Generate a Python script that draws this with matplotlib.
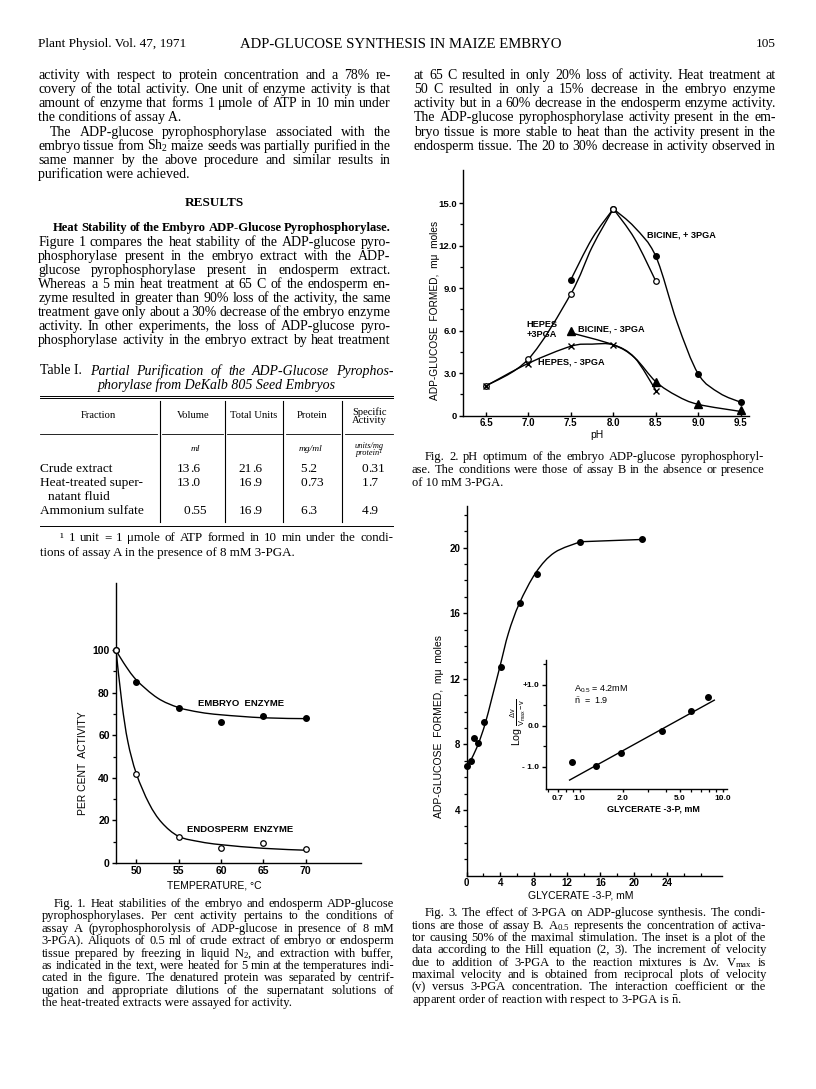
import numpy as np
import matplotlib
matplotlib.use('Agg')
import matplotlib.pyplot as plt
from matplotlib.path import Path
from matplotlib.patches import PathPatch
from matplotlib.lines import Line2D

plt.rcParams['font.family'] = ['Liberation Serif', 'DejaVu Serif']
plt.rcParams['mathtext.fontset'] = 'custom'
plt.rcParams['mathtext.rm'] = 'Liberation Serif'
plt.rcParams['mathtext.it'] = 'Liberation Serif:italic'
plt.rcParams['mathtext.bf'] = 'Liberation Serif:bold'
plt.rcParams['mathtext.sf'] = 'Liberation Sans'

W, H = 816, 1089
SANS = 'Liberation Sans'

# ---- Fig. 1: heat stability ----
temp = [47.6, 50, 55, 60, 65, 70]
embryo = [100, 85, 72.8, 66.2, 69, 68]
endosperm = [100, 42, 12, 7, 9.4, 6.6]
embryo_curve_t = [47.6, 48.5, 50, 52.5, 55, 57.5, 60, 65, 70]
embryo_curve = [100, 94, 86, 77.5, 73, 70.8, 69.6, 68.2, 67.8]
endo_curve_t = [47.6, 48.3, 49.0, 50, 51.5, 53, 55, 57.5, 60, 65, 70]
endo_curve = [100, 75, 57, 42, 28, 19, 12.5, 10, 8.6, 6.9, 6.0]

# ---- Fig. 2: pH optimum ----
bic_plus_ph = [7.5, 8.0, 8.5, 9.0, 9.5]
bic_plus = [9.6, 14.6, 11.25, 2.95, 0.95]
hep_plus_ph = [6.5, 7.0, 7.5, 8.0, 8.5]
hep_plus = [2.1, 4.0, 8.6, 14.6, 9.5]
hep_minus_ph = [6.5, 7.0, 7.5, 8.0, 8.5]
hep_minus = [2.1, 3.65, 4.95, 5.0, 1.75]
bic_minus_ph = [7.5, 8.5, 9.0, 9.5]
bic_minus = [6.0, 2.35, 0.8, 0.4]
# hand drawn curves (rise and fall drawn separately, sharp peak)
hep_plus_rise_ph = [6.5, 7.0, 7.5, 7.75, 8.0]
hep_plus_rise = [2.1, 4.0, 8.6, 11.9, 14.6]
hep_plus_fall_ph = [8.0, 8.25, 8.5]
hep_plus_fall = [14.6, 12.5, 9.5]
bic_plus_rise_ph = [7.5, 7.75, 8.0]
bic_plus_rise = [9.6, 12.5, 14.6]
bic_plus_fall_ph = [8.0, 8.25, 8.5, 8.75, 9.0, 9.25, 9.5]
bic_plus_fall = [14.6, 13.3, 11.25, 6.6, 2.95, 1.6, 0.95]
hep_minus_curve_ph = [6.5, 7.0, 7.5, 7.75, 8.0, 8.25, 8.5]
hep_minus_curve = [2.1, 3.7, 4.9, 5.05, 5.0, 4.1, 1.8]
bic_minus_curve_ph = [7.5, 8.0, 8.25, 8.5, 8.75, 9.0, 9.5]
bic_minus_curve = [5.85, 5.0, 4.1, 2.4, 1.4, 0.8, 0.3]

# ---- Fig. 3: 3-PGA saturation ----
pga = [0, 0.5, 0.9, 1.4, 2.1, 4.1, 6.4, 8.4, 13.6, 21.0]
adpg = [6.7, 7.0, 8.4, 8.1, 9.37, 12.74, 16.6, 18.4, 20.36, 20.5]
pga_curve_x = [0, 0.6, 1.4, 2.2, 3.0, 4.0, 5.0, 6.3, 8.3, 10.5, 13.6]
pga_curve_y = [6.7, 7.15, 8.05, 9.25, 10.8, 12.8, 14.8, 16.6, 18.5, 19.7, 20.36]
# inset, Hill plot
hill_x = [0.89, 1.29, 1.95, 3.77, 5.95, 7.9]
hill_y = [-0.87, -0.98, -0.655, -0.14, 0.36, 0.70]
hill_line_x = [0.85, 8.7]
hill_line_y = [-1.32, 0.62]

# ---- Table I ----
tab_rows = ["Crude extract", "Heat-treated super-", "Ammonium sulfate"]
tab_volume = ["13.6", "13.0", "0.55"]
tab_units = ["21.6", "16.9", "16.9"]
tab_protein = ["5.2", "0.73", "6.3"]
tab_specific = ["0.31", "1.7", "4.9"]

# ---- page text ----
left_a = [
    "activity with respect to protein concentration and a 78% re-",
    "covery of the total activity. One unit of enzyme activity is that",
    "amount of enzyme that forms 1 μmole of ATP in 10 min under",
    "the conditions of assay A.",
]
left_b = [
    "The ADP-glucose pyrophosphorylase associated with the",
    r"embryo tissue from $\mathrm{Sh_2}$ maize seeds was partially purified in the",
    "same manner by the above procedure and similar results in",
    "purification were achieved.",
]
results_head = "Heat Stability of the Embyro ADP-Glucose Pyrophosphorylase."
left_c = [
    "Figure 1 compares the heat stability of the ADP-glucose pyro-",
    "phosphorylase present in the embryo extract with the ADP-",
    "glucose pyrophosphorylase present in endosperm extract.",
    "Whereas a 5 min heat treatment at 65 C of the endosperm en-",
    "zyme resulted in greater than 90% loss of the activity, the same",
    "treatment gave only about a 30% decrease of the embryo enzyme",
    "activity. In other experiments, the loss of ADP-glucose pyro-",
    "phosphorylase activity in the embryo extract by heat treatment",
]
right_a = [
    "at 65 C resulted in only 20% loss of activity. Heat treatment at",
    "50 C resulted in only a 15% decrease in the embryo enzyme",
    "activity but in a 60% decrease in the endosperm enzyme activity.",
    "The ADP-glucose pyrophosphorylase activity present in the em-",
    "bryo tissue is more stable to heat than the activity present in the",
    "endosperm tissue. The 20 to 30% decrease in activity observed in",
]
cap1 = [
    "Fig. 1. Heat stabilities of the embryo and endosperm ADP-glucose",
    "pyrophosphorylases. Per cent activity pertains to the conditions of",
    "assay A (pyrophosphorolysis of ADP-glucose in presence of 8 mM",
    "3-PGA). Aliquots of 0.5 ml of crude extract of embryo or endosperm",
    r"tissue prepared by freezing in liquid $\mathrm{N_2}$, and extraction with buffer,",
    "as indicated in the text, were heated for 5 min at the temperatures indi-",
    "cated in the figure. The denatured protein was separated by centrif-",
    "ugation and appropriate dilutions of the supernatant solutions of",
    "the heat-treated extracts were assayed for activity.",
]
cap2 = [
    "Fig. 2. pH optimum of the embryo ADP-glucose pyrophosphoryl-",
    "ase. The conditions were those of assay B in the absence or presence",
    "of 10 mM 3-PGA.",
]
cap3 = [
    "Fig. 3. The effect of 3-PGA on ADP-glucose synthesis. The condi-",
    r"tions are those of assay B. $\mathrm{A_{0.5}}$ represents the concentration of activa-",
    "tor causing 50% of the maximal stimulation. The inset is a plot of the",
    "data according to the Hill equation (2, 3). The increment of velocity",
    r"due to addition of 3-PGA to the reaction mixtures is Δv. $\mathrm{V_{max}}$ is",
    "maximal velocity and is obtained from reciprocal plots of velocity",
    "(v) versus 3-PGA concentration. The interaction coefficient or the",
    r"apparent order of reaction with respect to 3-PGA is $\bar{\mathrm{n}}$.",
]

fig = plt.figure(figsize=(W / 100, H / 100), dpi=100)
renderer = fig.canvas.get_renderer()


def fx(x):
    return x / W


def fy(y):
    return 1 - y / H


def ftext(x, y, s, **kw):
    kw.setdefault('va', 'center')
    return fig.text(fx(x), fy(y), s, **kw)


def put_line(text, x0, x1, y, size, justify=True, **kw):
    base = y + 0.30 * size * 100 / 72
    if not justify:
        return fig.text(fx(x0), fy(base), text, fontsize=size, va='baseline', ha='left', **kw)
    words = text.split()
    objs = [fig.text(0, fy(base), w, fontsize=size, va='baseline', ha='left', **kw) for w in words]
    widths = [o.get_window_extent(renderer).width for o in objs]
    min_gap = 0.2 * size * 100 / 72
    need = sum(widths) + min_gap * (len(words) - 1)
    if need > x1 - x0:
        # squeeze the line a little when the font runs wider than the column
        k = (x1 - x0) / need
        for o in objs:
            o.set_fontsize(size * k)
        widths = [o.get_window_extent(renderer).width for o in objs]
    gap = (x1 - x0 - sum(widths)) / max(len(words) - 1, 1)
    x = x0
    for o, w in zip(objs, widths):
        o.set_x(fx(x))
        x += w + gap


def para(lines, x0, x1, y0, dy, size, indent=0, last_just=False, **kw):
    for i, line in enumerate(lines):
        just = last_just or i < len(lines) - 1
        put_line(line, x0 + (indent if i == 0 else 0), x1, y0 + i * dy, size, just, **kw)


def hline(x0, x1, y, lw=0.7):
    fig.add_artist(Line2D([fx(x0), fx(x1)], [fy(y), fy(y)], color='k', lw=lw))


def vline(x, y0, y1, lw=0.7):
    fig.add_artist(Line2D([fx(x), fx(x)], [fy(y0), fy(y1)], color='k', lw=lw))


def add_ax(l, t, r, b):
    ax = fig.add_axes([fx(l), fy(b), (r - l) / W, (b - t) / H])
    ax.set_facecolor('none')
    ax.spines[['top', 'right']].set_visible(False)
    ax.spines[['left', 'bottom']].set_linewidth(1.0)
    ax.tick_params(axis='y', direction='out', length=3, width=1.0, pad=1.5)
    ax.tick_params(axis='x', direction='in', length=3, width=1.0, pad=2)
    ax.tick_params(axis='y', which='minor', direction='out', length=2, width=0.9)
    ax.tick_params(axis='x', which='minor', direction='in', length=2, width=0.9)
    return ax


def smooth(ax, xs, ys, **kw):
    p = np.column_stack([xs, ys]).astype(float)
    n = len(p)
    verts = [p[0]]
    codes = [Path.MOVETO]
    for i in range(n - 1):
        p0 = p[max(i - 1, 0)]
        p1 = p[i]
        p2 = p[i + 1]
        p3 = p[min(i + 2, n - 1)]
        verts += [p1 + (p2 - p0) / 6, p2 - (p3 - p1) / 6, p2]
        codes += [Path.CURVE4] * 3
    ax.add_patch(PathPatch(Path(verts, codes), fill=False, lw=1.0, color='k', **kw))


def ticklabels(ax, axis, ticks, labels, size=7):
    if axis == 'x':
        ax.set_xticks(ticks)
        ax.set_xticklabels(labels, fontsize=size, fontfamily=SANS, fontweight='bold')
    else:
        ax.set_yticks(ticks)
        ax.set_yticklabels(labels, fontsize=size, fontfamily=SANS, fontweight='bold')


# ================= page header =================
ftext(38, 44, "Plant Physiol. Vol. 47, 1971", fontsize=9.5, ha='left')
ftext(240, 44, "ADP-GLUCOSE SYNTHESIS IN MAIZE EMBRYO", fontsize=10.6, ha='left')
ftext(776, 44, "105", fontsize=9.5, ha='right')

# ================= left column text =================
BODY = 10.0
para(left_a, 38.3, 390.7, 75, 14.1, BODY)
para(left_b, 38.3, 390.7, 131.5, 14.1, BODY, indent=12)
ftext(214.5, 203.3, "RESULTS", fontsize=9.5, fontweight='bold', ha='center')
put_line(results_head, 53.3, 390.7, 226.7, BODY, True, fontweight='bold')
para(left_c, 38.3, 390.7, 241.5, 14.1, BODY, last_just=True)

# ================= right column text =================
para(right_a, 414, 776, 75, 14.1, BODY, last_just=True)

# ================= Table I =================
t = ftext(40, 370.7, "Table I.", fontsize=BODY, ha='left')
tw = t.get_window_extent(renderer).width
put_line("Partial Purification of the ADP-Glucose Pyrophos-", 40 + tw + 8, 393.3, 370.7, BODY,
         True, fontstyle='italic')
ftext(216.7, 385, "phorylase from DeKalb 805 Seed Embryos", fontsize=BODY, ha='center',
      fontstyle='italic')
hline(40, 393.3, 395.7)
hline(40, 393.3, 398)
for x0, x1 in [(40, 156.7), (161.7, 222.7), (226.7, 281.7), (285.7, 340), (345, 393.3)]:
    hline(x0, x1, 434.3, lw=0.6)
for xv in [160, 225, 283.3, 342.3]:
    vline(xv, 400.7, 521.7, lw=0.8)
hline(40, 393.3, 526)
HS = 7.6
ftext(98.3, 416, "Fraction", fontsize=HS, ha='center')
ftext(193, 416, "Volume", fontsize=HS, ha='center')
ftext(254, 416, "Total Units", fontsize=HS, ha='center')
ftext(311.7, 416, "Protein", fontsize=HS, ha='center')
ftext(369.3, 416, "Specific\nActivity", fontsize=HS, ha='center', linespacing=0.85)
ftext(195, 449.3, "ml", fontsize=6.8, ha='center', fontstyle='italic')
ftext(311, 449.3, "mg/ml", fontsize=6.8, ha='center', fontstyle='italic')
ftext(369.3, 449.3, "units/mg\nprotein¹", fontsize=6.0, ha='center', fontstyle='italic',
      linespacing=0.9)
TB = 9.6
row_y = [469.3, 483.3, 510.7]
dec_x = [190.5, 252, 307, 368.5]
for i, name in enumerate(tab_rows):
    ftext(40, row_y[i], name, fontsize=TB, ha='left')
    for xd, col in zip(dec_x, [tab_volume, tab_units, tab_protein, tab_specific]):
        whole, frac = col[i].split('.')
        ftext(xd, row_y[i], whole, fontsize=TB, ha='right')
        ftext(xd, row_y[i], '.' + frac, fontsize=TB, ha='left')
ftext(48, 497.3, "natant fluid", fontsize=TB, ha='left')
put_line("¹ 1 unit = 1 μmole of ATP formed in 10 min under the condi-", 60, 393.3, 537.3, 9.4)
put_line("tions of assay A in the presence of 8 mM 3-PGA.", 40, 393.3, 552.3, 9.4, False)

# ================= Fig. 1 =================
ax1 = add_ax(116, 583, 361, 863)
ax1.set_xlim(47.6, 76.54)
ax1.set_ylim(0, 131.5)
smooth(ax1, embryo_curve_t, embryo_curve)
smooth(ax1, endo_curve_t, endo_curve)
ax1.plot(temp, embryo, 'o', color='k', ms=4, clip_on=False, zorder=3)
ax1.plot(temp, endosperm, 'o', mfc='white', mec='k', mew=0.9, ms=4, clip_on=False, zorder=3)
ticklabels(ax1, 'x', [50, 55, 60, 65, 70], ['50', '55', '60', '65', '70'], 7.5)
ticklabels(ax1, 'y', [0, 20, 40, 60, 80, 100], ['0', '20', '40', '60', '80', '100'], 7.5)
ax1.set_yticks([10, 30, 50, 70, 90], minor=True)
ftext(241, 703, "EMBRYO  ENZYME", fontsize=6.8, fontfamily=SANS, fontweight='bold', ha='center')
ftext(240, 829, "ENDOSPERM  ENZYME", fontsize=6.8, fontfamily=SANS, fontweight='bold', ha='center')
ftext(83, 763, "PER CENT  ACTIVITY", fontsize=7.5, fontfamily=SANS, rotation=90, ha='center')
ftext(214, 886, "TEMPERATURE, °C", fontsize=7.5, fontfamily=SANS, ha='center')
CAP = 9.0
para(cap1, 41.7, 394.3, 903.3, 12.37, CAP, indent=11.6)

# ================= Fig. 2 =================
ax2 = add_ax(463.3, 170, 749, 415.7)
ax2.set_xlim(6.233, 9.598)
ax2.set_ylim(0, 17.34)
smooth(ax2, hep_plus_rise_ph, hep_plus_rise)
smooth(ax2, hep_plus_fall_ph, hep_plus_fall)
smooth(ax2, bic_plus_rise_ph, bic_plus_rise)
smooth(ax2, bic_plus_fall_ph, bic_plus_fall)
smooth(ax2, hep_minus_curve_ph, hep_minus_curve)
smooth(ax2, bic_minus_curve_ph, bic_minus_curve)
ax2.plot(bic_plus_ph, bic_plus, 'o', color='k', ms=4, zorder=3, clip_on=False)
ax2.plot(hep_plus_ph, hep_plus, 'o', mfc='white', mec='k', mew=0.9, ms=4, zorder=3)
ax2.plot(hep_minus_ph, hep_minus, 'x', color='k', mew=1.0, ms=5, zorder=3)
ax2.plot(bic_minus_ph, bic_minus, '^', color='k', ms=5.5, zorder=3, clip_on=False)
ticklabels(ax2, 'x', [6.5, 7.0, 7.5, 8.0, 8.5, 9.0, 9.5],
           ['6.5', '7.0', '7.5', '8.0', '8.5', '9.0', '9.5'], 7)
ticklabels(ax2, 'y', [0, 3, 6, 9, 12, 15], ['0', '3.0', '6.0', '9.0', '12.0', '15.0'], 6.8)
ax2.set_yticks([1.5, 4.5, 7.5, 10.5, 13.5], minor=True)
LB = dict(fontsize=6.6, fontfamily=SANS, fontweight='bold')
ftext(647, 235, "BICINE, + 3PGA", ha='left', **LB)
ftext(557, 325, "HEPES", ha='right', **LB)
ftext(557, 334.5, "+3PGA", ha='right', **LB)
ftext(578, 329.3, "BICINE, - 3PGA", ha='left', **LB)
ftext(538, 362, "HEPES, - 3PGA", ha='left', **LB)
ftext(434.5, 310, "ADP-GLUCOSE  FORMED,  mμ  moles", fontsize=7.3, fontfamily=SANS,
      rotation=90, ha='center')
ftext(596.7, 435, "pH", fontsize=7.5, fontfamily=SANS, ha='center')
para(cap2, 411.7, 764, 456.7, 12.6, CAP, indent=13.3)

# ================= Fig. 3 =================
ax3 = add_ax(466.7, 506, 721.7, 875.6)
ax3.set_xlim(0, 30.5)
ax3.set_ylim(0, 22.54)
smooth(ax3, pga_curve_x, pga_curve_y)
ax3.plot([pga[-2], pga[-1]], [adpg[-2], adpg[-1]], color='k', lw=1.0)
ax3.plot(pga, adpg, 'o', color='k', ms=4, zorder=3, clip_on=False)
ticklabels(ax3, 'x', [0, 4, 8, 12, 16, 20, 24], ['0', '4', '8', '12', '16', '20', '24'], 7)
ticklabels(ax3, 'y', [4, 8, 12, 16, 20], ['4', '8', '12', '16', '20'], 7)
ax3.set_xticks([2, 6, 10, 14, 18, 22, 26, 28], minor=True)
ax3.set_yticks([1, 2, 3, 5, 6, 7, 9, 10, 11, 13, 14, 15, 17, 18, 19, 21, 22], minor=True)
ftext(439.3, 727, "ADP-GLUCOSE  FORMED,  mμ  moles", fontsize=7.5, fontfamily=SANS,
      rotation=90, ha='center')
ftext(580.7, 896, "GLYCERATE -3-P, mM", fontsize=7.5, fontfamily=SANS, ha='center')

ax4 = add_ax(545.7, 660, 727.3, 789.3)
ax4.set_xscale('log')
ax4.set_xlim(0.579, 10.72)
ax4.set_ylim(-1.544, 1.595)
ax4.plot(hill_line_x, hill_line_y, color='k', lw=1.0)
ax4.plot(hill_x, hill_y, 'o', color='k', ms=4, zorder=3)
ax4.set_xticks([0.7, 1, 2, 5, 10])
ax4.set_xticklabels(['0.7', '1.0', '2.0', '5.0', '10.0'], fontsize=6, fontfamily=SANS,
                    fontweight='bold')
ax4.set_xticks([0.6, 0.8, 0.9, 3, 4, 6, 7, 8, 9], minor=True)
ax4.set_xticklabels([], minor=True)
ax4.tick_params(axis='x', direction='out', length=2.5, pad=1.5)
ax4.tick_params(axis='x', which='minor', direction='out', length=2)
ticklabels(ax4, 'y', [-1, 0, 1], ['- 1.0', '0.0', '+1.0'], 6)
ax4.set_yticks([-0.5, 0.5, 1.5], minor=True)
ftext(574, 688.3, r"$\mathsf{A_{0.5}}$ = 4.2mM", fontsize=6.5, fontfamily=SANS, ha='left')
ftext(574, 701, r"$\bar{\mathsf{n}}$  =  1.9", fontsize=6.5, fontfamily=SANS, ha='left')
ftext(518, 722, r"Log $\frac{\mathsf{\Delta v}}{\mathsf{V_{max} - v}}$", fontsize=7.6,
      fontfamily=SANS, rotation=90, ha='center')
ftext(653.3, 809, "GLYCERATE -3-P, mM", fontsize=6.5, fontfamily=SANS, fontweight='bold',
      ha='center')
para(cap3, 411.7, 766, 912.7, 12.33, CAP, indent=13.3)

fig.savefig('out.png', dpi=100)
